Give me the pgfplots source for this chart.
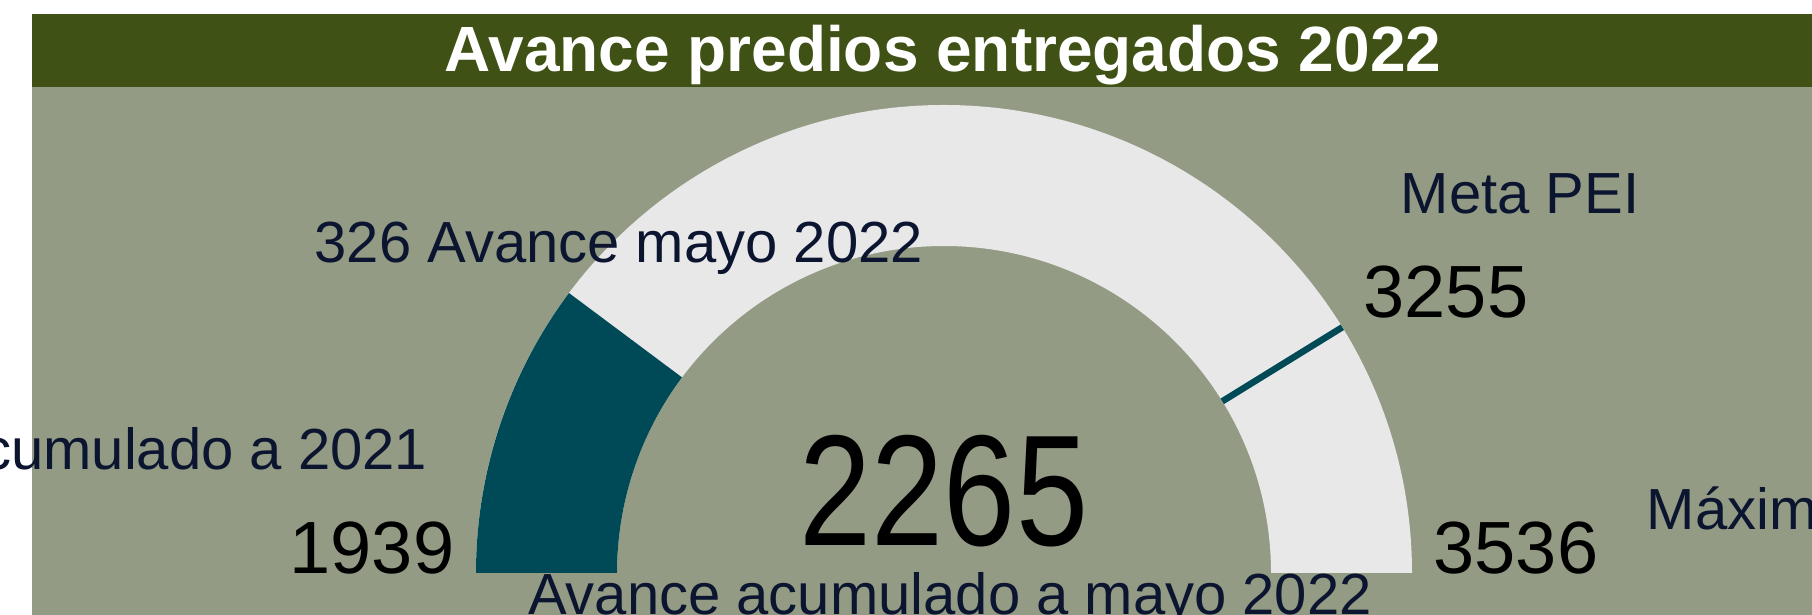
\documentclass[border=0pt]{standalone}
\usepackage{fontspec}
\setmainfont{Liberation Sans}
\newfontfamily\narrowfont[FakeStretch=0.82]{Liberation Sans}
\usepackage{pgfplots}
\usepackage{pgfplotstable}
\pgfplotsset{compat=1.18}
\definecolor{panelbg}{HTML}{939B84}
\definecolor{titlebar}{HTML}{3F5114}
\definecolor{gteal}{HTML}{004A57}
\definecolor{glight}{HTML}{E8E8E8}
\definecolor{lblnavy}{HTML}{0B1530}

% gauge values
\def\gmin{1939}
\def\gval{2265}
\def\gmeta{3255}
\def\gmax{3536}
\pgfplotstableread{
v r
3255 327
3255 468
}\metaline

\newcommand\lblfont{\fontsize{16.5}{18}\selectfont}
\newcommand\numfont{\fontsize{21.05}{24}\selectfont}
\newcommand\bigfont{\narrowfont\fontsize{44.95}{50}\selectfont}

\begin{document}
\begin{tikzpicture}
\fill[white] (0,0) rectangle (18.12,6.15);
\pgfmathsetmacro\aval{180-180*((\gval-\gmin)/(\gmax-\gmin))}
\begin{scope}
\clip (0,0) rectangle (18.12,6.15);
\begin{axis}[at={(0,0)},anchor=south west,scale only axis,
  width=18.12cm,height=6.15cm,
  xmin=-944,xmax=868,ymin=-42,ymax=573,
  hide axis,clip=false]
% panel and title bar
\fill[panelbg] (axis cs:-912,-42) rectangle (axis cs:868,559);
\fill[titlebar] (axis cs:-912,486) rectangle (axis cs:868,559);
\node[anchor=base,inner sep=0,text=white,font=\fontsize{18.2}{20}\selectfont\bfseries]
  at (axis cs:-1,501) {Avance predios entregados 2022};
% gauge band
\fill[glight] (axis cs:-468,0) arc[start angle=180,end angle=0,radius=4.68cm]
  -- (axis cs:327,0) arc[start angle=0,end angle=180,radius=3.27cm] -- cycle;
\fill[gteal] (axis cs:-468,0) arc[start angle=180,end angle=\aval,radius=4.68cm]
  -- ([shift={(\aval:3.27cm)}]axis cs:0,0) arc[start angle=\aval,end angle=180,radius=3.27cm] -- cycle;
\addplot[gteal,line width=0.065cm,data cs=polar]
  table[x expr={180-180*((\thisrow{v}-\gmin)/(\gmax-\gmin))},y=r] {\metaline};
% labels
\node[anchor=base west,inner sep=0,text=lblnavy,font=\lblfont] at (axis cs:-630,310) {326 Avance mayo 2022};
\node[anchor=base west,inner sep=0,text=lblnavy,font=\lblfont] at (axis cs:456,359) {Meta PEI};
\node[anchor=base west,inner sep=0,font=\numfont] at (axis cs:419,255) {\gmeta};
\node[anchor=base east,inner sep=0,text=lblnavy,font=\lblfont] at (axis cs:-516,103) {Avance acumulado a 2021};
\node[anchor=base east,inner sep=0,font=\numfont] at (axis cs:-489,-1) {\gmin};
\node[anchor=base,inner sep=0,font=\bigfont] at (axis cs:0,27) {\gval};
\node[anchor=base west,inner sep=0,font=\numfont] at (axis cs:489,-1) {\gmax};
\node[anchor=base west,inner sep=0,text=lblnavy,font=\lblfont] at (axis cs:702,43) {Máximo};
\node[anchor=base,inner sep=0,text=lblnavy,font=\lblfont] at (axis cs:6,-41) {Avance acumulado a mayo 2022};
\end{axis}
\end{scope}
\pgfresetboundingbox
\path[use as bounding box] (0,0) rectangle (18.12,6.15);
\end{tikzpicture}
\end{document}
